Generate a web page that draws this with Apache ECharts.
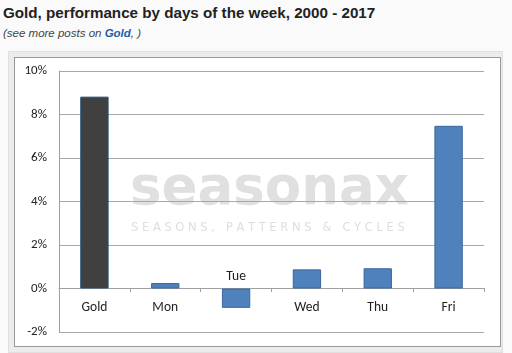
<!DOCTYPE html>
<html>
<head>
<meta charset="utf-8">
<script src="https://cdn.jsdelivr.net/npm/echarts@6/dist/echarts.min.js"></script>
<style>
html,body{margin:0;padding:0;background:#fafafa;}
#wrap{position:relative;width:512px;height:353px;font-family:Arial,"Liberation Sans",sans-serif;}
#title{position:absolute;left:3px;top:4px;font-size:15.2px;font-weight:bold;color:#222;white-space:nowrap;}
#sub{position:absolute;left:3px;top:27px;font-size:11.5px;font-style:italic;color:#444;white-space:nowrap;}
#sub b{color:#1c5ea8;}
#frame{position:absolute;left:8px;top:51px;width:495px;height:302px;background:#ececec;border:1px solid #e0e0e0;box-sizing:border-box;}
#inner{position:absolute;left:14px;top:57px;width:487px;height:290px;background:#fff;border:1px solid #999;box-sizing:border-box;}
#rtpDayChart{position:absolute;left:0;top:0;width:512px;height:353px;}
</style>
</head>
<body>
<div id="wrap">
  <div id="title">Gold, performance by days of the week, 2000 - 2017</div>
  <div id="sub">(see more posts on <b>Gold</b>, )</div>
  <div id="frame"></div>
  <div id="inner"></div>
  <div id="rtpDayChart"></div>
</div>
<script>
var categories = ['Gold', 'Mon', 'Tue', 'Wed', 'Thu', 'Fri'];
var values = [8.82, 0.25, -0.89, 0.88, 0.93, 7.48];
var yTicks = [-2, 0, 2, 4, 6, 8, 10];

function rtpDayChart(){
	var myChart = echarts.init(document.getElementById('rtpDayChart'), null, {renderer: 'canvas'});
	var labelFont = 'Carlito, "Liberation Sans", sans-serif';
	var barData = values.map(function(v, i){
		var item = {value: v};
		if (i == 0) {
			item.itemStyle = {color: '#404040', borderColor: '#1f4e79'};
		}
		if (categories[i] == 'Tue') {
			// Excel puts this label above the axis
			item.label = {show: true, position: 'top', distance: 5, formatter: '{b}',
				color: '#222', fontSize: 13.5, fontFamily: labelFont};
		}
		return item;
	});
	var option = {
		backgroundColor: 'transparent',
		animation: false,
		graphic: [
			{type: 'text', left: 130, top: 164, z: -10,
			 style: {text: 'seasonax', fontSize: 53, fontWeight: 'bold', fontFamily: '"DejaVu Sans"', fill: '#e0e0e0'}},
			{type: 'text', left: 131, top: 222, z: -10,
			 style: {text: 'S E A S O N S ,   P A T T E R N S   &   C Y C L E S', fontSize: 11.5, fontFamily: '"DejaVu Sans"', fill: '#dedede'}}
		],
		grid: {left: 59, right: 28, top: 71, bottom: 21, containLabel: false},
		xAxis: [{
			type: 'category',
			data: categories,
			offset: -44,
			axisLine: {onZero: false, lineStyle: {color: '#a0a0a0'}},
			axisTick: {show: true, length: 4, lineStyle: {color: '#a0a0a0'}},
			axisLabel: {
				margin: 13, color: '#222', fontSize: 13.5, fontFamily: labelFont,
				formatter: function(v){ return v == 'Tue' ? '' : v; }
			}
		}],
		yAxis: [{
			type: 'value',
			min: yTicks[0],
			max: yTicks[yTicks.length - 1],
			interval: 2,
			axisLine: {show: true, lineStyle: {color: '#a0a0a0'}},
			axisTick: {show: false},
			splitLine: {lineStyle: {color: '#a8a8a8'}},
			axisLabel: {margin: 12, color: '#222', fontSize: 13, fontFamily: labelFont, formatter: '{value}%'}
		}],
		series: [{
			name: 'Performance',
			type: 'bar',
			barWidth: '40%',
			data: barData,
			itemStyle: {color: '#4f81bd', borderColor: '#3a679c', borderWidth: 1}
		}]
	};
	myChart.setOption(option);
}
rtpDayChart();
</script>
</body>
</html>
